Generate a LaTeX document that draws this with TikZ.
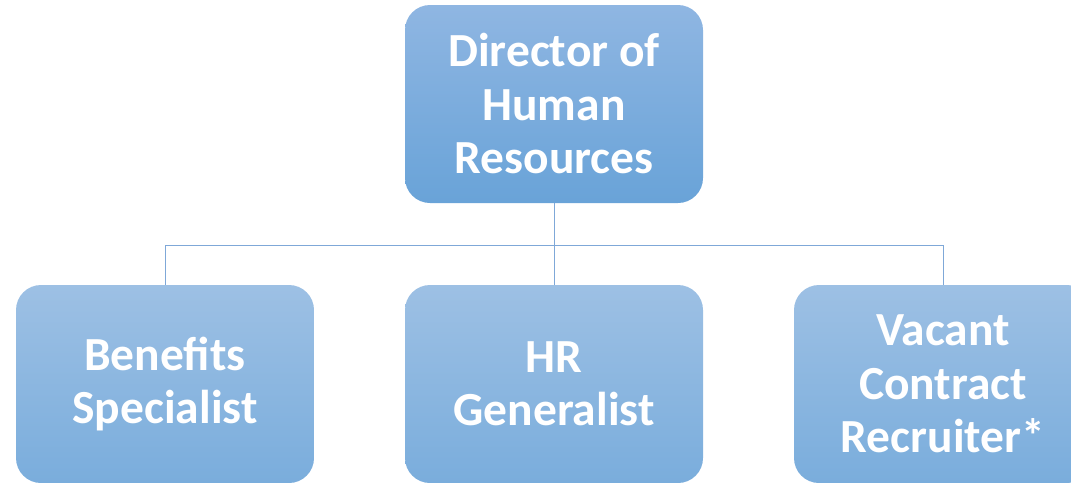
\documentclass[tikz,border=0pt]{standalone}
\usepackage{fontspec}
\setmainfont{Carlito}
\usepackage{tikz}
\usetikzlibrary{positioning}

\tikzset{
  post/.style={rounded corners=25pt, minimum width=298pt, inner sep=0pt,
    align=center, text=white, font=\fontsize{47.5}{53.5}\selectfont\bfseries},
  headpost/.style={post, minimum height=198pt, top color=headtop, bottom color=headbot},
  staffpost/.style={post, minimum height=198pt, top color=stafftop, bottom color=staffbot},
  link/.style={draw=linkblue, line width=1pt}
}
\definecolor{headtop}{HTML}{8FB6E2}
\definecolor{headbot}{HTML}{69A3D8}
\definecolor{stafftop}{HTML}{9DC0E4}
\definecolor{staffbot}{HTML}{7AADDC}
\definecolor{linkblue}{HTML}{7FA8D8}

\begin{document}
\begin{tikzpicture}[x=1pt,y=-1pt]
\useasboundingbox (0,0) rectangle (1071,482);
\clip (0,0) rectangle (1071,482);
% boxes
\node[headpost] (dir) at (554,104) {Director of\\Human\\Resources};
\node[staffpost] (ben) at (165,384) {Benefits\\Specialist};
\node[staffpost] (gen) at (554,384) {HR\\Generalist};
\node[staffpost] (rec) at (943,384) {Vacant\\Contract\\Recruiter*};
% connectors
\coordinate (bus) at (554,245);
\draw[link] (dir.south) -- (bus);
\draw[link] (bus) -| (ben.north);
\draw[link] (bus) -- (gen.north);
\draw[link] (bus) -| (rec.north);
\end{tikzpicture}
\end{document}
